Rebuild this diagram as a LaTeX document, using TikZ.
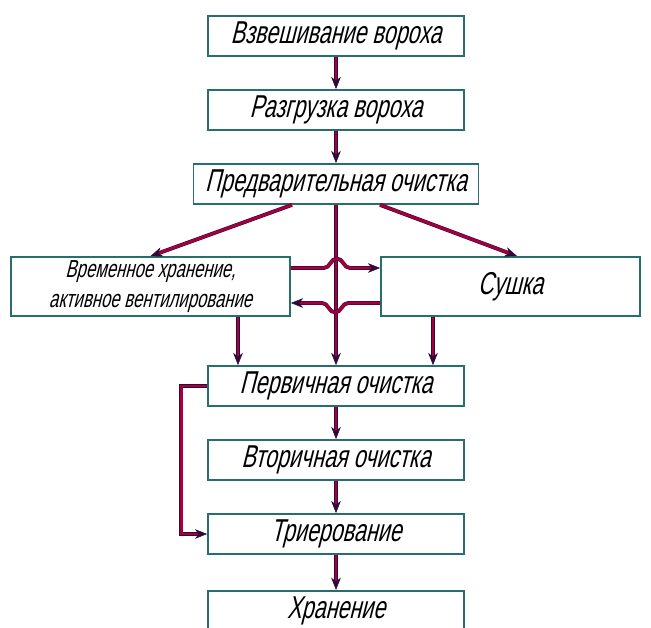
\documentclass[tikz,border=0pt]{standalone}
\usepackage{fontspec}
\newfontfamily\gostfont{Liberation Sans}[FakeStretch=0.68, FakeSlant=0.25]
\usetikzlibrary{arrows.meta}
\definecolor{flowred}{RGB}{165,0,62}
\definecolor{flowedge}{RGB}{45,10,55}
\definecolor{boxedge}{RGB}{40,110,110}

\begin{document}
\begin{tikzpicture}[
        node distance=1.48cm,
        stage/.style={draw=boxedge, line width=1pt, fill=white, align=center, inner sep=0pt,
            minimum width=5.12cm, minimum height=0.8cm, font=\gostfont\fontsize{18}{20}\selectfont},
        flow/.style={draw=flowedge, line width=0.3pt, double=flowred, double distance=1.6pt,
            -{Stealth[length=7pt,width=5.5pt]}}
    ]
        \useasboundingbox (0,0) rectangle (13.02,-12.56);

        \node[stage] at (6.72,-0.72) (weigh) {Взвешивание вороха};
        \node[stage, below of=weigh] (unload) {Разгрузка вороха};
        \node[stage, below of=unload, minimum width=5.7cm] (precl) {Предварительная очистка};
        \node[stage, below of=precl, xshift=-3.71cm, yshift=-0.57cm, minimum width=5.58cm, minimum height=1.18cm,
            font=\gostfont\fontsize{14}{17}\selectfont] (store) {Временное хранение,\\активное вентилирование};
        \node[stage, below of=precl, xshift=3.49cm, yshift=-0.57cm, minimum width=5.18cm, minimum height=1.18cm] (dry) {Сушка};
        \node[stage, below of=precl, yshift=-2.56cm] (prim) {Первичная очистка};
        \node[stage, below of=prim] (sec) {Вторичная очистка};
        \node[stage, below of=sec] (trier) {Триерование};
        % last box runs off the page
        \node[stage, anchor=north, text height=0.56cm, text depth=0.64cm] at ([yshift=-0.7cm]trier.south) (keep) {Хранение};

        \draw[flow] (weigh) -- (unload);
        \draw[flow] (unload) -- (precl);
        \draw[flow] (precl) -- (prim);
        \draw[flow] ([xshift=-0.88cm]precl.south) -- (store.north);
        \draw[flow] ([xshift=0.88cm]precl.south) -- ([xshift=0.13cm]dry.north);
        \draw[flow] ([xshift=1.75cm]store.south) -- ([xshift=1.75cm]store.south |- prim.north);
        \draw[flow] ([xshift=-1.55cm]dry.south) -- ([xshift=-1.55cm]dry.south |- prim.north);

        % hops over the middle line
        \draw[flow] ([yshift=0.37cm]store.east) -- ++(0.66,0) to[out=0,in=180] ++(0.26,0.19)
            to[out=0,in=180] ++(0.26,-0.19) -- ([yshift=0.37cm]dry.west);
        \draw[flow] ([yshift=-0.33cm]dry.west) -- ++(-0.64,0) to[out=180,in=0] ++(-0.26,-0.19)
            to[out=180,in=0] ++(-0.26,0.19) -- ([yshift=-0.33cm]store.east);

        \draw[flow] (prim.west) -- ++(-0.52,0) |- (trier.west);
        \draw[flow] (prim) -- (sec);
        \draw[flow] (sec) -- (trier);
        \draw[flow] (trier) -- (keep);
    \end{tikzpicture}
\end{document}
